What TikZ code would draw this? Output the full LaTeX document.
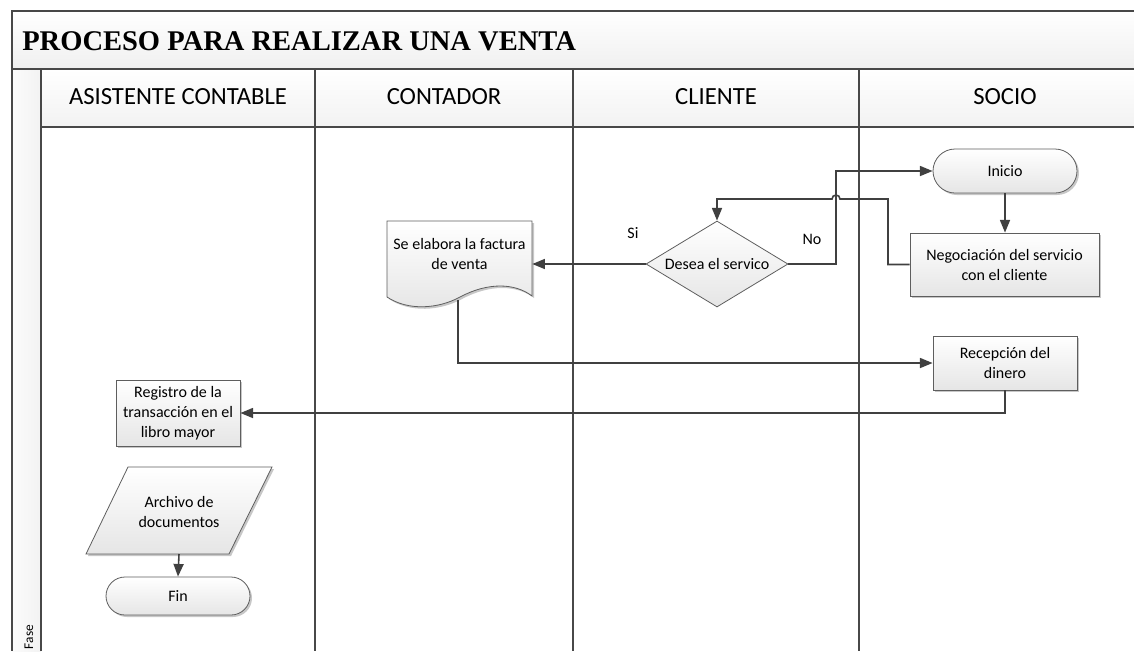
\documentclass[tikz,border=0pt]{standalone}
\usepackage{fontspec}
\setmainfont{Carlito}
\newfontfamily\titlefont{Liberation Serif}
\usetikzlibrary{arrows.meta,shapes.geometric,shapes.misc,shadows}
\definecolor{framec}{HTML}{484848}
\definecolor{linec}{HTML}{404040}
\definecolor{nodeb}{HTML}{5E5E5E}
\begin{document}
\begin{tikzpicture}[x=0.75pt,y=-0.75pt,
  frameline/.style={draw=framec,line width=1.2pt},
  shd/.style={drop shadow={shadow xshift=1.5pt,shadow yshift=-1.5pt,fill=black,opacity=0.22}},
  boxfill/.style={top color=white,bottom color=gray!20,draw=nodeb,line width=0.6pt},
  nodefont/.style={font=\fontsize{12}{15}\selectfont},
  procbox/.style={boxfill,shd,rectangle,inner sep=0pt,align=center,nodefont},
  termbox/.style={procbox,rounded rectangle},
  decbox/.style={boxfill,diamond,aspect=1.65,inner sep=0pt,align=center,nodefont},
  txtbox/.style={inner sep=0pt,align=center,nodefont},
  arr/.style={draw=linec,line width=1.2pt,-{Triangle[length=9.5pt,width=7.5pt]}},
  lanehead/.style={font=\fontsize{18.5}{20}\selectfont,inner sep=0pt,anchor=base},
  lbl/.style={font=\fontsize{12}{14}\selectfont,inner sep=0pt}
]
\useasboundingbox (0,0) rectangle (1134,651);
% frame backgrounds
\fill[top color=white,bottom color=gray!12] (12,11) rectangle (1134,69);
\fill[top color=white,bottom color=gray!10] (41,69) rectangle (1134,127);
\fill[left color=gray!3,right color=gray!10] (12,69) rectangle (41,651);
% frame lines
\draw[frameline] (1134,11) -- (12,11) -- (12,651);
\draw[frameline] (12,69) -- (1134,69);
\draw[frameline] (41,127) -- (1134,127);
\draw[frameline] (41,69) -- (41,651);
\foreach \x in {315,573,859} \draw[frameline] (\x,69) -- (\x,651);
% title and lane headers
\node[font=\titlefont\bfseries\fontsize{21.4}{24}\selectfont,inner sep=0pt,anchor=base west] (title) at (22,50) {PROCESO PARA REALIZAR UNA VENTA};
\node[lanehead] (h1) at (178,104) {ASISTENTE CONTABLE};
\node[lanehead] (h2) at (444,104) {CONTADOR};
\node[lanehead] (h3) at (716,104) {CLIENTE};
\node[lanehead] (h4) at (1005,104) {SOCIO};
\node[rotate=90,font=\fontsize{10}{12}\selectfont,inner sep=0pt] (fase) at (29,637) {Fase};
% nodes
\node[termbox,minimum width=108pt,minimum height=33pt] (ini) at (1005,171) {Inicio};
\node[procbox,minimum width=141.75pt,minimum height=47.25pt] (neg) at (1004.5,264.5) {Negociación del servicio\\con el cliente};
\node[decbox,minimum width=106.5pt,minimum height=64.5pt] (dia) at (717,264) {Desea el servico};
\path[boxfill,shd] (387,221) -- (532,221) -- (532,296)
  .. controls (515,283) and (488,282) .. (460,297)
  .. controls (438,309) and (408,311) .. (387,297) -- cycle;
\node[txtbox,minimum width=108.75pt,minimum height=40pt] (fact) at (459.5,253.5) {Se elabora la factura\\de venta};
\coordinate (factb) at (458,300);
\node[procbox,minimum width=108pt,minimum height=40.5pt] (rec) at (1005,363) {Recepción del\\dinero};
\node[procbox,minimum width=93pt,minimum height=49.5pt] (reg) at (178,413) {Registro de la\\transacción en el\\libro mayor};
\path[boxfill,shd] (128,467) -- (272,467) -- (229,554) -- (86,554) -- cycle;
\node[txtbox] (arch) at (179,512) {Archivo de\\documentos};
\coordinate (archb) at (179,554);
\node[termbox,minimum width=108pt,minimum height=28.5pt] (fin) at (178,596) {Fin};
% labels
\node[lbl] (si) at (633,233) {Si};
\node[lbl] (no) at (812,239) {No};
% connectors
\coordinate (nov) at (836,264);
\coordinate (negx) at (888,199);
\coordinate (hop) at (840,199);
\draw[arr] (ini.south) -- (ini.south |- neg.north);
\draw[arr] (neg.west) -| (negx) -- (hop) arc[start angle=0,end angle=180,radius=3pt] -- (dia.north |- negx) -- (dia.north);
\draw[arr] (dia.east) -- (nov) |- (ini.west);
\draw[arr] (dia.west) -- (dia.west -| fact.east);
\draw[arr] (factb) |- (rec.west);
\draw[arr] (rec.south) |- (reg.east);
\draw[arr] (archb) -- (fin.north);
\end{tikzpicture}
\end{document}
